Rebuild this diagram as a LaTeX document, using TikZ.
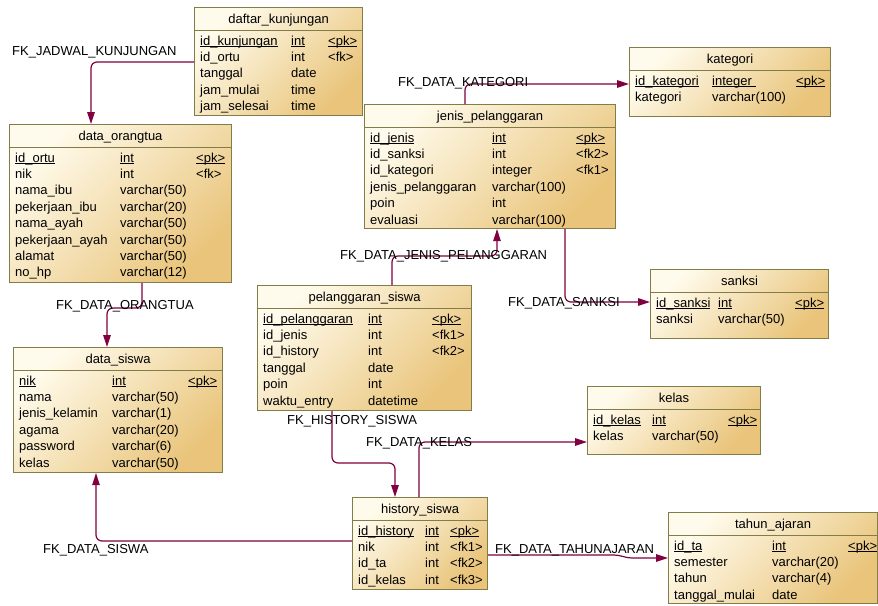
\documentclass[tikz,border=0pt]{standalone}
\usepackage{fontspec}
\setmainfont{Liberation Sans}
\usetikzlibrary{arrows.meta,calc}

\definecolor{erTop}{RGB}{255,251,236}
\definecolor{erBot}{RGB}{233,196,122}
\definecolor{erEdge}{RGB}{130,124,70}
\definecolor{fkLine}{RGB}{128,0,64}

% key fields: thin rule just under the baseline
\newcommand{\pkul}[1]{\setbox0=\hbox{#1}\rlap{\rule[-1.7pt]{\wd0}{0.6pt}}\box0}

% table frame: id, left x, top y, width, height, title
\newcommand{\erbox}[6]{%
  \node[erbox, minimum width=#4pt, minimum height=#5pt, anchor=north west] (#1) at (#2,#3) {};
  \draw[erEdge, line width=1pt] ([yshift=-23pt]#1.north west) -- ([yshift=-23pt]#1.north east);
  \node[ertitle] (#1-t) at ([yshift=-11.5pt]#1.north) {#6};
}
% table row: id, row number, type column offset, key column offset, name, type, key
\newcommand{\errow}[7]{%
  \pgfmathsetmacro{\errowy}{-(33.5+(#2-1)*16.4)}%
  \node[cell] (#1-n#2) at ([xshift=6pt,yshift=\errowy pt]#1.north west) {#5};
  \node[cell] (#1-y#2) at ([xshift=#3pt,yshift=\errowy pt]#1.north west) {#6};
  \node[cell] (#1-k#2) at ([xshift=#4pt,yshift=\errowy pt]#1.north west) {#7};
}

\tikzset{
  erbox/.style={draw=erEdge, line width=1.1pt, top color=erTop, bottom color=erBot,
    shading angle=45, inner sep=0pt},
  ertitle/.style={anchor=base, yshift=-4.6pt, inner sep=0pt, font=\fontsize{13}{15}\selectfont},
  cell/.style={anchor=base west, yshift=-4.6pt, inner sep=0pt, font=\fontsize{13}{15}\selectfont},
  fklabel/.style={anchor=base west, yshift=-4.6pt, inner sep=0pt, font=\fontsize{13}{15}\selectfont},
  fk/.style={draw=fkLine, line width=1.2pt, rounded corners=6pt,
    -{Triangle[length=12pt,width=7.5pt]}},
}

\begin{document}
\begin{tikzpicture}[x=1pt,y=-1pt]
\useasboundingbox (0,0) rectangle (878,605);
\fill[white] (0,0) rectangle (878,605);

% daftar_kunjungan
\erbox{dk}{194}{7}{168}{108}{daftar\_kunjungan}
\errow{dk}{1}{97}{134}{\pkul{id\_kunjungan}}{\pkul{int}}{\pkul{<pk>}}
\errow{dk}{2}{97}{134}{id\_ortu}{int}{<fk>}
\errow{dk}{3}{97}{134}{tanggal}{date}{}
\errow{dk}{4}{97}{134}{jam\_mulai}{time}{}
\errow{dk}{5}{97}{134}{jam\_selesai}{time}{}

% data_orangtua
\erbox{ok}{9}{124}{222}{158}{data\_orangtua}
\errow{ok}{1}{111}{187}{\pkul{id\_ortu}}{\pkul{int}}{\pkul{<pk>}}
\errow{ok}{2}{111}{187}{nik}{int}{<fk>}
\errow{ok}{3}{111}{187}{nama\_ibu}{varchar(50)}{}
\errow{ok}{4}{111}{187}{pekerjaan\_ibu}{varchar(20)}{}
\errow{ok}{5}{111}{187}{nama\_ayah}{varchar(50)}{}
\errow{ok}{6}{111}{187}{pekerjaan\_ayah}{varchar(50)}{}
\errow{ok}{7}{111}{187}{alamat}{varchar(50)}{}
\errow{ok}{8}{111}{187}{no\_hp}{varchar(12)}{}

% jenis_pelanggaran
\erbox{jp}{364}{104}{251}{124}{jenis\_pelanggaran}
\errow{jp}{1}{128}{212}{\pkul{id\_jenis}}{\pkul{int}}{\pkul{<pk>}}
\errow{jp}{2}{128}{212}{id\_sanksi}{int}{<fk2>}
\errow{jp}{3}{128}{212}{id\_kategori}{integer}{<fk1>}
\errow{jp}{4}{128}{212}{jenis\_pelanggaran}{varchar(100)}{}
\errow{jp}{5}{128}{212}{poin}{int}{}
\errow{jp}{6}{128}{212}{evaluasi}{varchar(100)}{}

% kategori
\erbox{kat}{629}{47}{201}{69}{kategori}
\errow{kat}{1}{83}{167}{\pkul{id\_kategori}}{\pkul{integer\ }}{\pkul{<pk>}}
\errow{kat}{2}{83}{167}{kategori}{varchar(100)}{}

% sanksi
\erbox{sa}{650}{269}{178}{69}{sanksi}
\errow{sa}{1}{68}{145}{\pkul{id\_sanksi}}{\pkul{int}}{\pkul{<pk>}}
\errow{sa}{2}{68}{145}{sanksi}{varchar(50)}{}

% pelanggaran_siswa
\erbox{ps}{257}{285}{214}{125}{pelanggaran\_siswa}
\errow{ps}{1}{111}{175}{\pkul{id\_pelanggaran}}{\pkul{int}}{\pkul{<pk>}}
\errow{ps}{2}{111}{175}{id\_jenis}{int}{<fk1>}
\errow{ps}{3}{111}{175}{id\_history}{int}{<fk2>}
\errow{ps}{4}{111}{175}{tanggal}{date}{}
\errow{ps}{5}{111}{175}{poin}{int}{}
\errow{ps}{6}{111}{175}{waktu\_entry}{datetime}{}

% data_siswa
\erbox{ds}{13}{347}{209}{125}{data\_siswa}
\errow{ds}{1}{99}{175}{\pkul{nik}}{\pkul{int}}{\pkul{<pk>}}
\errow{ds}{2}{99}{175}{nama}{varchar(50)}{}
\errow{ds}{3}{99}{175}{jenis\_kelamin}{varchar(1)}{}
\errow{ds}{4}{99}{175}{agama}{varchar(20)}{}
\errow{ds}{5}{99}{175}{password}{varchar(6)}{}
\errow{ds}{6}{99}{175}{kelas}{varchar(50)}{}

% kelas
\erbox{ke}{587}{386}{173}{68}{kelas}
\errow{ke}{1}{65}{141}{\pkul{id\_kelas}}{\pkul{int}}{\pkul{<pk>}}
\errow{ke}{2}{65}{141}{kelas}{varchar(50)}{}

% history_siswa
\erbox{hs}{352}{497}{135}{92}{history\_siswa}
\errow{hs}{1}{73}{98}{\pkul{id\_history}}{\pkul{int}}{\pkul{<pk>}}
\errow{hs}{2}{73}{98}{nik}{int}{<fk1>}
\errow{hs}{3}{73}{98}{id\_ta}{int}{<fk2>}
\errow{hs}{4}{73}{98}{id\_kelas}{int}{<fk3>}

% tahun_ajaran
\erbox{ta}{668}{512}{209}{91}{tahun\_ajaran}
\errow{ta}{1}{104}{180}{\pkul{id\_ta}}{\pkul{int}}{\pkul{<pk>}}
\errow{ta}{2}{104}{180}{semester}{varchar(20)}{}
\errow{ta}{3}{104}{180}{tahun}{varchar(4)}{}
\errow{ta}{4}{104}{180}{tanggal\_mulai}{date}{}

% bend points of the references
\coordinate (c1) at (91,62);
\coordinate (c2) at (465,84);
\coordinate (c3a) at (142,308);
\coordinate (c3b) at (107,308);
\coordinate (c4a) at (392,256);
\coordinate (c4b) at (497,256);
\coordinate (c5) at (565,302);
\coordinate (c6a) at (332,463);
\coordinate (c6b) at (395,463);
\coordinate (c7) at (419,442);
\coordinate (c8) at (96,541);
\coordinate (c9a) at (614,555);
\coordinate (c9b) at (632,558);

% references
\draw[fk] (dk.west |- c1) -| (ok.north -| c1);
\draw[fk] (jp.north -| c2) |- (kat.west |- c2);
\draw[fk] (ok.south -| c3a) -- (c3a) -- (c3b) -- (ds.north -| c3b);
\draw[fk] (ps.north -| c4a) -- (c4a) -- (c4b) -- (jp.south -| c4b);
\draw[fk] (jp.south -| c5) |- (sa.west |- c5);
\draw[fk] (ps.south -| c6a) -- (c6a) -- (c6b) -- (hs.north -| c6b);
\draw[fk] (hs.north -| c7) |- (ke.west |- c7);
\draw[fk] (hs.west |- c8) -| (ds.south -| c8);
\draw[fk, rounded corners=0pt] (hs.east |- c9a) -- (c9a) to[out=0,in=180] (c9b) -- (ta.west |- c9b);

% reference names
\node[fklabel] (l1) at (12,51) {FK\_JADWAL\_KUNJUNGAN};
\node[fklabel] (l2) at (398,82) {FK\_DATA\_KATEGORI};
\node[fklabel] (l3) at (56,305) {FK\_DATA\_ORANGTUA};
\node[fklabel] (l4) at (340,255) {FK\_DATA\_JENIS\_PELANGGARAN};
\node[fklabel] (l5) at (508,302) {FK\_DATA\_SANKSI};
\node[fklabel] (l6) at (287,420) {FK\_HISTORY\_SISWA};
\node[fklabel] (l7) at (366,442) {FK\_DATA\_KELAS};
\node[fklabel] (l8) at (43,549) {FK\_DATA\_SISWA};
\node[fklabel] (l9) at (495,549) {FK\_DATA\_TAHUNAJARAN};
\end{tikzpicture}
\end{document}
